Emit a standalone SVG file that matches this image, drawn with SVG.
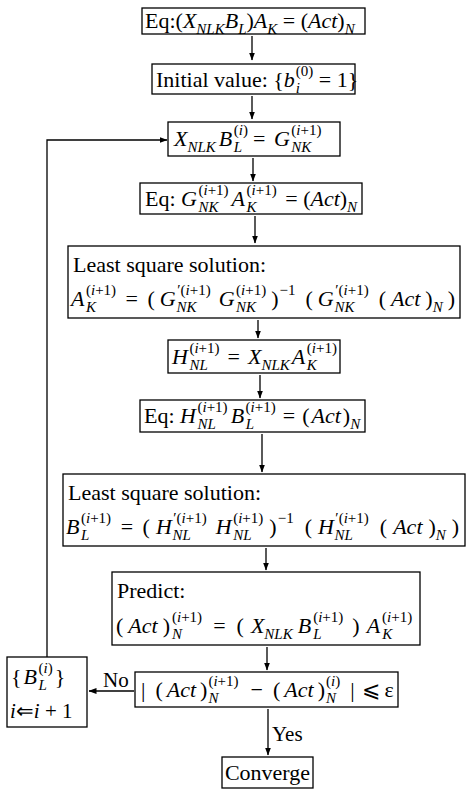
<svg xmlns="http://www.w3.org/2000/svg" width="466" height="789" viewBox="0 0 466 789">
<defs>
<marker id="ah" markerWidth="8" markerHeight="6" refX="7.5" refY="3" orient="auto" markerUnits="userSpaceOnUse"><path d="M0,0 L8,3 L0,6 z" fill="#000"/></marker>
<style>
.t{font-family:"Liberation Serif","Times New Roman",serif;font-size:22px;fill:#000}
.i{font-style:italic}
.s{font-size:15px}
.b{fill:#fff;stroke:#000;stroke-width:1.3}
.c{fill:none;stroke:#000;stroke-width:1.3;marker-end:url(#ah)}
</style>
</defs>
<rect width="466" height="789" fill="#fff"/>
<g id="connectors">
<line class="c" x1="252" y1="36" x2="252" y2="60"/>
<line class="c" x1="252" y1="96" x2="252" y2="119"/>
<line class="c" x1="253" y1="158" x2="253" y2="181"/>
<line class="c" x1="255" y1="216" x2="255" y2="243"/>
<line class="c" x1="258" y1="320" x2="258" y2="338"/>
<line class="c" x1="260" y1="375" x2="260" y2="398"/>
<line class="c" x1="262" y1="434" x2="262" y2="472"/>
<line class="c" x1="266" y1="548" x2="266" y2="570"/>
<line class="c" x1="267" y1="647" x2="267" y2="670"/>
<line class="c" x1="268" y1="709" x2="268" y2="755"/>
<line class="c" x1="134" y1="691" x2="89" y2="691"/>
<polyline class="c" points="47,657 47,140 167,140"/>
<text class="t" x="103" y="687" style="font-size:21px">No</text>
<text class="t" x="272" y="741" style="font-size:21px">Yes</text>
</g>
<g id="n1"><rect class="b" x="142" y="8" width="223" height="26"/>
<text class="t" x="145" y="28">Eq:(<tspan class="i">X</tspan><tspan class="s i" dy="6">NLK</tspan><tspan class="i" dy="-6">B</tspan><tspan class="s i" dy="6">L</tspan><tspan dy="-6">)</tspan><tspan class="i">A</tspan><tspan class="s i" dy="6">K</tspan><tspan dy="-6"> = (</tspan><tspan class="i">Act</tspan>)<tspan class="s i" dy="6">N</tspan></text></g>
<g id="n2"><rect class="b" x="152" y="64" width="203" height="30"/>
<text class="t" x="156" y="87">Initial value: {<tspan class="i">b</tspan><tspan class="s" dx="1" dy="-11">(0)</tspan><tspan class="s i" dx="-17.5" dy="17">i</tspan><tspan dx="13.3" dy="-6"> = 1}</tspan></text></g>
<g id="n3"><rect class="b" x="168" y="122" width="172" height="34"/>
<text class="t" x="174" y="146"><tspan class="i">X</tspan><tspan class="s i" dy="6">NLK</tspan><tspan class="i" dx="3" dy="-6">B</tspan><tspan class="s" dx="1.5" dy="-11">(<tspan class="i">i</tspan>)</tspan><tspan class="s i" dx="-14.2" dy="17">L</tspan><tspan dx="10.9" dy="-6">=</tspan><tspan class="i" dx="8.5">G</tspan><tspan class="s" dx="1.5" dy="-11">(<tspan class="i">i</tspan>+1)</tspan><tspan class="s i" dx="-30.1" dy="17">NK</tspan></text></g>
<g id="n4"><rect class="b" x="140" y="183" width="222" height="31"/>
<text class="t" x="145" y="206">Eq: <tspan class="i">G</tspan><tspan class="s" dx="1.5" dy="-11">(<tspan class="i">i</tspan>+1)</tspan><tspan class="s i" dx="-30.1" dy="17">NK</tspan><tspan class="i" dx="13.1" dy="-6">A</tspan><tspan class="s" dx="1.5" dy="-11">(<tspan class="i">i</tspan>+1)</tspan><tspan class="s i" dx="-30.1" dy="17">K</tspan><tspan dx="23.1" dy="-6"> = (</tspan><tspan class="i">Act</tspan>)<tspan class="s i" dy="6">N</tspan></text></g>
<g id="n5"><rect class="b" x="68" y="246" width="392" height="72"/>
<text class="t" x="73" y="272">Least square solution:</text>
<text class="t" x="71" y="306"><tspan class="i">A</tspan><tspan class="s" dx="1.5" dy="-11">(<tspan class="i">i</tspan>+1)</tspan><tspan class="s i" dx="-30.1" dy="17">K</tspan><tspan dx="29.6" dy="-6">=</tspan><tspan dx="9.5">(</tspan><tspan class="i" dx="5">G</tspan><tspan class="s" dx="1.5" dy="-11">′(<tspan class="i">i</tspan>+1)</tspan><tspan class="s i" dx="-34.2" dy="17">NK</tspan><tspan class="i" dx="22.2" dy="-6">G</tspan><tspan class="s" dx="1.5" dy="-11">(<tspan class="i">i</tspan>+1)</tspan><tspan class="s i" dx="-30.1" dy="17">NK</tspan><tspan dx="15.1" dy="-6">)</tspan><tspan class="s" dx="1" dy="-11">−1</tspan><tspan dx="10" dy="11">(</tspan><tspan class="i" dx="5">G</tspan><tspan class="s" dx="1.5" dy="-11">′(<tspan class="i">i</tspan>+1)</tspan><tspan class="s i" dx="-34.2" dy="17">NK</tspan><tspan dx="24.2" dy="-6">(</tspan><tspan class="i" dx="5">Act</tspan><tspan dx="5">)</tspan><tspan class="s i" dy="6">N</tspan><tspan dx="5" dy="-6">)</tspan></text></g>
<g id="n6"><rect class="b" x="168" y="340" width="172" height="33"/>
<text class="t" x="172" y="364"><tspan class="i">H</tspan><tspan class="s" dx="1.5" dy="-11">(<tspan class="i">i</tspan>+1)</tspan><tspan class="s i" dx="-30.1" dy="17">NL</tspan><tspan dx="19.8" dy="-6">=</tspan><tspan class="i" dx="8">X</tspan><tspan class="s i" dy="6">NLK</tspan><tspan class="i" dx="2" dy="-6">A</tspan><tspan class="s" dx="1.5" dy="-11">(<tspan class="i">i</tspan>+1)</tspan><tspan class="s i" dx="-30.1" dy="17">K</tspan></text></g>
<g id="n7"><rect class="b" x="140" y="400" width="225" height="32"/>
<text class="t" x="144" y="423">Eq:<tspan class="i" dx="5.5">H</tspan><tspan class="s" dx="1.5" dy="-11">(<tspan class="i">i</tspan>+1)</tspan><tspan class="s i" dx="-30.1" dy="17">NL</tspan><tspan class="i" dx="14.8" dy="-6">B</tspan><tspan class="s" dx="1.5" dy="-11">(<tspan class="i">i</tspan>+1)</tspan><tspan class="s i" dx="-30.1" dy="17">L</tspan><tspan dx="28.8" dy="-6">=</tspan><tspan dx="7">(</tspan><tspan class="i" dx="2">Act</tspan><tspan dx="2">)</tspan><tspan class="s i" dy="6">N</tspan></text></g>
<g id="n8"><rect class="b" x="63" y="474" width="402" height="72"/>
<text class="t" x="68" y="500">Least square solution:</text>
<text class="t" x="66" y="534"><tspan class="i">B</tspan><tspan class="s" dx="1.5" dy="-11">(<tspan class="i">i</tspan>+1)</tspan><tspan class="s i" dx="-30.1" dy="17">L</tspan><tspan dx="31.3" dy="-6">=</tspan><tspan dx="9.5">(</tspan><tspan class="i" dx="6">H</tspan><tspan class="s" dx="1.5" dy="-11">′(<tspan class="i">i</tspan>+1)</tspan><tspan class="s i" dx="-34.2" dy="17">NL</tspan><tspan class="i" dx="24.9" dy="-6">H</tspan><tspan class="s" dx="1.5" dy="-11">(<tspan class="i">i</tspan>+1)</tspan><tspan class="s i" dx="-30.1" dy="17">NL</tspan><tspan dx="17.8" dy="-6">)</tspan><tspan class="s" dx="1" dy="-11">−1</tspan><tspan dx="11" dy="11">(</tspan><tspan class="i" dx="6">H</tspan><tspan class="s" dx="1.5" dy="-11">′(<tspan class="i">i</tspan>+1)</tspan><tspan class="s i" dx="-34.2" dy="17">NL</tspan><tspan dx="26.9" dy="-6">(</tspan><tspan class="i" dx="6">Act</tspan><tspan dx="6">)</tspan><tspan class="s i" dy="6">N</tspan><tspan dx="6" dy="-6">)</tspan></text></g>
<g id="n9"><rect class="b" x="112" y="572" width="308" height="73"/>
<text class="t" x="117" y="598">Predict:</text>
<text class="t" x="116" y="633">(<tspan class="i" dx="5">Act</tspan><tspan dx="5">)</tspan><tspan class="s" dx="2" dy="-11">(<tspan class="i">i</tspan>+1)</tspan><tspan class="s i" dx="-30.1" dy="17">N</tspan><tspan dx="31.1" dy="-6">=</tspan><tspan dx="11">(</tspan><tspan class="i" dx="7">X</tspan><tspan class="s i" dy="6">NLK</tspan><tspan class="i" dx="5" dy="-6">B</tspan><tspan class="s" dx="2" dy="-11">(<tspan class="i">i</tspan>+1)</tspan><tspan class="s i" dx="-30.1" dy="17">L</tspan><tspan dx="30.8" dy="-6">)</tspan><tspan class="i" dx="7">A</tspan><tspan class="s" dx="2" dy="-11">(<tspan class="i">i</tspan>+1)</tspan><tspan class="s i" dx="-30.1" dy="17">K</tspan></text></g>
<g id="n10"><rect class="b" x="135" y="672" width="263" height="35"/>
<text class="t" x="141" y="697">|<tspan dx="10">(</tspan><tspan class="i" dx="4">Act</tspan><tspan dx="4">)</tspan><tspan class="s" dx="1" dy="-11">(<tspan class="i">i</tspan>+1)</tspan><tspan class="s i" dx="-30.1" dy="17">N</tspan><tspan dx="32.1" dy="-6">−</tspan><tspan dx="10">(</tspan><tspan class="i" dx="4">Act</tspan><tspan dx="4">)</tspan><tspan class="s" dx="1" dy="-11">(<tspan class="i">i</tspan>)</tspan><tspan class="s i" dx="-14.2" dy="17">N</tspan><tspan dx="14.2" dy="-6">|</tspan><tspan dx="7">⩽</tspan><tspan dx="5">ε</tspan></text></g>
<g id="n11"><rect class="b" x="222" y="757" width="91" height="31"/>
<text class="t" x="267.5" y="780" text-anchor="middle">Converge</text></g>
<g id="n12"><rect class="b" x="7" y="657" width="80" height="70"/>
<text class="t" x="11" y="684">{<tspan class="i" dx="2">B</tspan><tspan class="s" dx="1.5" dy="-11">(<tspan class="i">i</tspan>)</tspan><tspan class="s i" dx="-14.2" dy="17">L</tspan><tspan dx="7.9" dy="-6">}</tspan></text>
<text class="t" x="10" y="718" style="font-size:21px"><tspan class="i">i</tspan>⇐<tspan class="i">i</tspan> + 1</text></g>
</svg>
